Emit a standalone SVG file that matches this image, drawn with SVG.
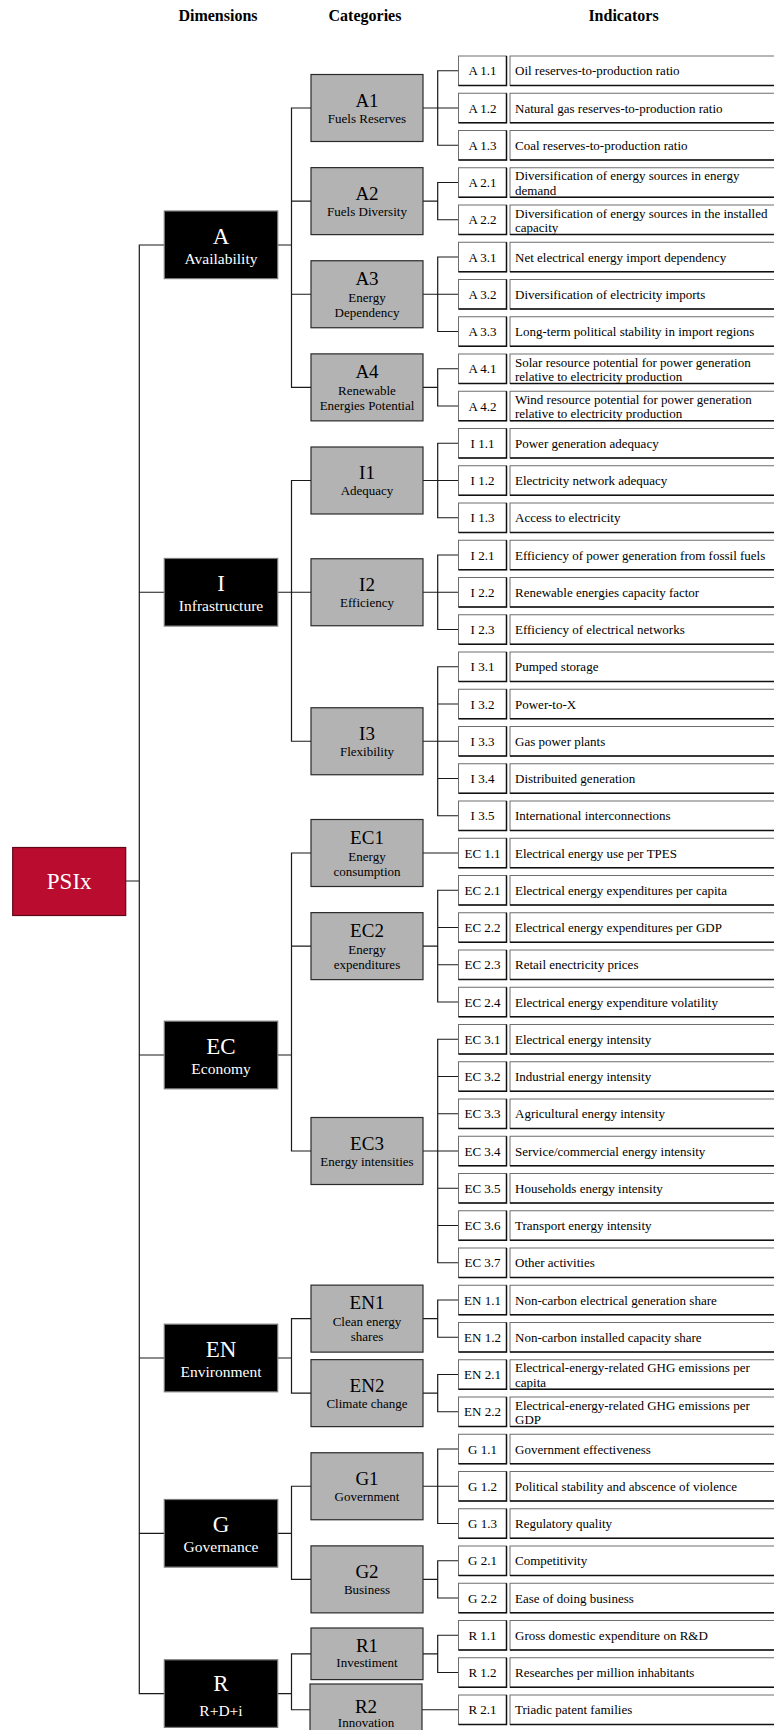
<svg xmlns="http://www.w3.org/2000/svg" xmlns:xlink="http://www.w3.org/1999/xlink" width="774" height="1730" viewBox="0 0 774 1730">
<style>
text{font-family:"Liberation Serif","Times New Roman",serif;fill:#000}
.hd{font-size:16px;font-weight:bold;text-anchor:middle}
.con path{fill:none;stroke:#1a1a1a;stroke-width:1.2}
.dim rect{fill:#000;stroke:#7a7a7a;stroke-width:1.2}
.dim text{fill:#fff;text-anchor:middle}
.dt{font-size:23px}
.ds{font-size:15.5px}
.cat rect{fill:#b3b3b3;stroke:#2a2a2a;stroke-width:1.2}
.cat text{text-anchor:middle}
.ct{font-size:19px}
.cs{font-size:13px}
.c{font-size:13px;text-anchor:middle}
.d{font-size:13px}
</style>
<defs>
<g id="rb">
<rect x="458.5" y="0" width="48" height="29.5" fill="#fff" stroke="#6e6e6e" stroke-width="1"/>
<rect x="510" y="0" width="270" height="29.5" fill="#fff" stroke="#6e6e6e" stroke-width="1"/>
<path d="M458.5 29.5 H506.5 V0 M510 29.5 H780" fill="none" stroke="#111" stroke-width="1.5"/>
</g>
</defs>
<rect width="774" height="1730" fill="#fff"/>
<text class="hd" x="218" y="21">Dimensions</text>
<text class="hd" x="365" y="21">Categories</text>
<text class="hd" x="623.5" y="21">Indicators</text>

<g id="connectors" class="con">
<path d="M125.7 881 H139.3 M164.3 245 H139.3 V1693.6 H164.3 M139.3 592.25 H164.3 M139.3 1055 H164.3 M139.3 1358 H164.3 M139.3 1533.3 H164.3"/>
<path d="M311 108 H291.5 V387.375 H311 M291.5 201.125 H311 M291.5 294.25 H311 M277.7 245 H291.5"/>
<path d="M311 480.5 H291.5 V741.25 H311 M277.7 592.25 H311"/>
<path d="M311 853 H291.5 V1151 H311 M291.5 946.125 H311 M277.7 1055 H291.5"/>
<path d="M311 1318.625 H291.5 V1393.125 H311 M277.7 1358 H291.5"/>
<path d="M311 1486.25 H291.5 V1579.375 H311 M277.7 1533.3 H291.5"/>
<path d="M311 1653.875 H291.5 V1709.75 H310 M277.7 1693.6 H291.5"/>
<path d="M458.5 70.75 H437.7 V145.25 H458.5 M423 108 H458.5"/>
<path d="M458.5 182.5 H437.7 V219.75 H458.5 M423 201.125 H437.7"/>
<path d="M458.5 257 H437.7 V331.5 H458.5 M423 294.25 H458.5"/>
<path d="M458.5 368.75 H437.7 V406 H458.5 M423 387.375 H437.7"/>
<path d="M458.5 443.25 H437.7 V517.75 H458.5 M423 480.5 H458.5"/>
<path d="M458.5 555 H437.7 V629.5 H458.5 M423 592.25 H458.5"/>
<path d="M458.5 666.75 H437.7 V815.75 H458.5 M437.7 704 H458.5 M423 741.25 H458.5 M437.7 778.5 H458.5"/>
<path d="M423 853 H458.5"/>
<path d="M458.5 890.25 H437.7 V1002 H458.5 M437.7 927.5 H458.5 M437.7 964.75 H458.5 M423 946.125 H437.7"/>
<path d="M458.5 1039.25 H437.7 V1262.75 H458.5 M437.7 1076.5 H458.5 M437.7 1113.75 H458.5 M423 1151 H458.5 M437.7 1188.25 H458.5 M437.7 1225.5 H458.5"/>
<path d="M458.5 1300 H437.7 V1337.25 H458.5 M423 1318.625 H437.7"/>
<path d="M458.5 1374.5 H437.7 V1411.75 H458.5 M423 1393.125 H437.7"/>
<path d="M458.5 1449 H437.7 V1523.5 H458.5 M423 1486.25 H458.5"/>
<path d="M458.5 1560.75 H437.7 V1598 H458.5 M423 1579.375 H437.7"/>
<path d="M458.5 1635.25 H437.7 V1672.5 H458.5 M423 1653.875 H437.7"/>
<path d="M422 1709.75 H458.5"/>
</g>

<g id="psix">
<rect x="12.7" y="847.5" width="113" height="68" fill="#ba0c2f" stroke="#5e0717" stroke-width="1.2"/>
<text x="69.2" y="889" font-size="23" text-anchor="middle" style="fill:#fff">PSIx</text>
</g>

<g id="dim-A" class="dim"><rect x="164.3" y="211" width="113.4" height="67.6"/><text class="dt" x="221" y="243.5">A</text><text class="ds" x="221" y="264">Availability</text></g>
<g id="dim-I" class="dim"><rect x="164.3" y="558.45" width="113.4" height="67.6"/><text class="dt" x="221" y="590.75">I</text><text class="ds" x="221" y="611.25">Infrastructure</text></g>
<g id="dim-EC" class="dim"><rect x="164.3" y="1021.2" width="113.4" height="67.6"/><text class="dt" x="221" y="1053.5">EC</text><text class="ds" x="221" y="1074">Economy</text></g>
<g id="dim-EN" class="dim"><rect x="164.3" y="1324.2" width="113.4" height="67.6"/><text class="dt" x="221" y="1356.5">EN</text><text class="ds" x="221" y="1377">Environment</text></g>
<g id="dim-G" class="dim"><rect x="164.3" y="1499.5" width="113.4" height="67.6"/><text class="dt" x="221" y="1531.8">G</text><text class="ds" x="221" y="1552.3">Governance</text></g>
<g id="dim-R" class="dim"><rect x="164.3" y="1659.8" width="113.4" height="67.6"/><text class="dt" x="221" y="1691">R</text><text class="ds" x="221" y="1716">R+D+i</text></g>

<g id="cat-A1" class="cat"><rect x="311" y="74.5" width="112" height="67"/><text class="ct" x="367" y="106.5">A1</text><text class="cs" x="367" y="122.8">Fuels Reserves</text></g>
<g id="cat-A2" class="cat"><rect x="311" y="167.625" width="112" height="67"/><text class="ct" x="367" y="199.6">A2</text><text class="cs" x="367" y="215.9">Fuels Diversity</text></g>
<g id="cat-A3" class="cat"><rect x="311" y="260.75" width="112" height="67"/><text class="ct" x="367" y="284.75">A3</text><text class="cs" x="367" y="301.75">Energy</text><text class="cs" x="367" y="316.75">Dependency</text></g>
<g id="cat-A4" class="cat"><rect x="311" y="353.875" width="112" height="67"/><text class="ct" x="367" y="377.9">A4</text><text class="cs" x="367" y="394.9">Renewable</text><text class="cs" x="367" y="409.9">Energies Potential</text></g>
<g id="cat-I1" class="cat"><rect x="311" y="447" width="112" height="67"/><text class="ct" x="367" y="479">I1</text><text class="cs" x="367" y="495.3">Adequacy</text></g>
<g id="cat-I2" class="cat"><rect x="311" y="558.75" width="112" height="67"/><text class="ct" x="367" y="590.75">I2</text><text class="cs" x="367" y="607.05">Efficiency</text></g>
<g id="cat-I3" class="cat"><rect x="311" y="707.75" width="112" height="67"/><text class="ct" x="367" y="739.75">I3</text><text class="cs" x="367" y="756.05">Flexibility</text></g>
<g id="cat-EC1" class="cat"><rect x="311" y="819.5" width="112" height="67"/><text class="ct" x="367" y="843.5">EC1</text><text class="cs" x="367" y="860.5">Energy</text><text class="cs" x="367" y="875.5">consumption</text></g>
<g id="cat-EC2" class="cat"><rect x="311" y="912.625" width="112" height="67"/><text class="ct" x="367" y="936.6">EC2</text><text class="cs" x="367" y="953.6">Energy</text><text class="cs" x="367" y="968.6">expenditures</text></g>
<g id="cat-EC3" class="cat"><rect x="311" y="1117.5" width="112" height="67"/><text class="ct" x="367" y="1149.5">EC3</text><text class="cs" x="367" y="1165.8">Energy intensities</text></g>
<g id="cat-EN1" class="cat"><rect x="311" y="1285.125" width="112" height="67"/><text class="ct" x="367" y="1309.1">EN1</text><text class="cs" x="367" y="1326.1">Clean energy</text><text class="cs" x="367" y="1341.1">shares</text></g>
<g id="cat-EN2" class="cat"><rect x="311" y="1359.625" width="112" height="67"/><text class="ct" x="367" y="1391.6">EN2</text><text class="cs" x="367" y="1407.9">Climate change</text></g>
<g id="cat-G1" class="cat"><rect x="311" y="1452.75" width="112" height="67"/><text class="ct" x="367" y="1484.75">G1</text><text class="cs" x="367" y="1501.05">Government</text></g>
<g id="cat-G2" class="cat"><rect x="311" y="1545.875" width="112" height="67"/><text class="ct" x="367" y="1577.9">G2</text><text class="cs" x="367" y="1594.2">Business</text></g>
<g id="cat-R1" class="cat"><rect x="311" y="1628" width="112" height="51.6"/><text class="ct" x="367" y="1651.5">R1</text><text class="cs" x="367" y="1667">Investiment</text></g>
<g id="cat-R2" class="cat"><rect x="310" y="1684" width="112" height="67"/><text class="ct" x="366" y="1712.5">R2</text><text class="cs" x="366" y="1726.5">Innovation</text></g>

<g id="ind-A1-1" transform="translate(0,56)"><use xlink:href="#rb" href="#rb"/><text class="c" x="482.5" y="19.25">A 1.1</text><text class="d" x="515" y="19.25">Oil reserves-to-production ratio</text></g>
<g id="ind-A1-2" transform="translate(0,93.25)"><use xlink:href="#rb" href="#rb"/><text class="c" x="482.5" y="19.25">A 1.2</text><text class="d" x="515" y="19.25">Natural gas reserves-to-production ratio</text></g>
<g id="ind-A1-3" transform="translate(0,130.5)"><use xlink:href="#rb" href="#rb"/><text class="c" x="482.5" y="19.25">A 1.3</text><text class="d" x="515" y="19.25">Coal reserves-to-production ratio</text></g>
<g id="ind-A2-1" transform="translate(0,167.75)"><use xlink:href="#rb" href="#rb"/><text class="c" x="482.5" y="19.25">A 2.1</text><text class="d" x="515" y="12.5">Diversification of energy sources in energy</text><text class="d" x="515" y="27">demand</text></g>
<g id="ind-A2-2" transform="translate(0,205)"><use xlink:href="#rb" href="#rb"/><text class="c" x="482.5" y="19.25">A 2.2</text><text class="d" x="515" y="12.5">Diversification of energy sources in the installed</text><text class="d" x="515" y="27">capacity</text></g>
<g id="ind-A3-1" transform="translate(0,242.25)"><use xlink:href="#rb" href="#rb"/><text class="c" x="482.5" y="19.25">A 3.1</text><text class="d" x="515" y="19.25">Net electrical energy import dependency</text></g>
<g id="ind-A3-2" transform="translate(0,279.5)"><use xlink:href="#rb" href="#rb"/><text class="c" x="482.5" y="19.25">A 3.2</text><text class="d" x="515" y="19.25">Diversification of electricity imports</text></g>
<g id="ind-A3-3" transform="translate(0,316.75)"><use xlink:href="#rb" href="#rb"/><text class="c" x="482.5" y="19.25">A 3.3</text><text class="d" x="515" y="19.25">Long-term political stability in import regions</text></g>
<g id="ind-A4-1" transform="translate(0,354)"><use xlink:href="#rb" href="#rb"/><text class="c" x="482.5" y="19.25">A 4.1</text><text class="d" x="515" y="12.5">Solar resource potential for power generation</text><text class="d" x="515" y="27">relative to electricity production</text></g>
<g id="ind-A4-2" transform="translate(0,391.25)"><use xlink:href="#rb" href="#rb"/><text class="c" x="482.5" y="19.25">A 4.2</text><text class="d" x="515" y="12.5">Wind resource potential for power generation</text><text class="d" x="515" y="27">relative to electricity production</text></g>
<g id="ind-I1-1" transform="translate(0,428.5)"><use xlink:href="#rb" href="#rb"/><text class="c" x="482.5" y="19.25">I 1.1</text><text class="d" x="515" y="19.25">Power generation adequacy</text></g>
<g id="ind-I1-2" transform="translate(0,465.75)"><use xlink:href="#rb" href="#rb"/><text class="c" x="482.5" y="19.25">I 1.2</text><text class="d" x="515" y="19.25">Electricity network adequacy</text></g>
<g id="ind-I1-3" transform="translate(0,503)"><use xlink:href="#rb" href="#rb"/><text class="c" x="482.5" y="19.25">I 1.3</text><text class="d" x="515" y="19.25">Access to electricity</text></g>
<g id="ind-I2-1" transform="translate(0,540.25)"><use xlink:href="#rb" href="#rb"/><text class="c" x="482.5" y="19.25">I 2.1</text><text class="d" x="515" y="19.25">Efficiency of power generation from fossil fuels</text></g>
<g id="ind-I2-2" transform="translate(0,577.5)"><use xlink:href="#rb" href="#rb"/><text class="c" x="482.5" y="19.25">I 2.2</text><text class="d" x="515" y="19.25">Renewable energies capacity factor</text></g>
<g id="ind-I2-3" transform="translate(0,614.75)"><use xlink:href="#rb" href="#rb"/><text class="c" x="482.5" y="19.25">I 2.3</text><text class="d" x="515" y="19.25">Efficiency of electrical networks</text></g>
<g id="ind-I3-1" transform="translate(0,652)"><use xlink:href="#rb" href="#rb"/><text class="c" x="482.5" y="19.25">I 3.1</text><text class="d" x="515" y="19.25">Pumped storage</text></g>
<g id="ind-I3-2" transform="translate(0,689.25)"><use xlink:href="#rb" href="#rb"/><text class="c" x="482.5" y="19.25">I 3.2</text><text class="d" x="515" y="19.25">Power-to-X</text></g>
<g id="ind-I3-3" transform="translate(0,726.5)"><use xlink:href="#rb" href="#rb"/><text class="c" x="482.5" y="19.25">I 3.3</text><text class="d" x="515" y="19.25">Gas power plants</text></g>
<g id="ind-I3-4" transform="translate(0,763.75)"><use xlink:href="#rb" href="#rb"/><text class="c" x="482.5" y="19.25">I 3.4</text><text class="d" x="515" y="19.25">Distribuited generation</text></g>
<g id="ind-I3-5" transform="translate(0,801)"><use xlink:href="#rb" href="#rb"/><text class="c" x="482.5" y="19.25">I 3.5</text><text class="d" x="515" y="19.25">International interconnections</text></g>
<g id="ind-EC1-1" transform="translate(0,838.25)"><use xlink:href="#rb" href="#rb"/><text class="c" x="482.5" y="19.25">EC 1.1</text><text class="d" x="515" y="19.25">Electrical energy use per TPES</text></g>
<g id="ind-EC2-1" transform="translate(0,875.5)"><use xlink:href="#rb" href="#rb"/><text class="c" x="482.5" y="19.25">EC 2.1</text><text class="d" x="515" y="19.25">Electrical energy expenditures per capita</text></g>
<g id="ind-EC2-2" transform="translate(0,912.75)"><use xlink:href="#rb" href="#rb"/><text class="c" x="482.5" y="19.25">EC 2.2</text><text class="d" x="515" y="19.25">Electrical energy expenditures per GDP</text></g>
<g id="ind-EC2-3" transform="translate(0,950)"><use xlink:href="#rb" href="#rb"/><text class="c" x="482.5" y="19.25">EC 2.3</text><text class="d" x="515" y="19.25">Retail enectricity prices</text></g>
<g id="ind-EC2-4" transform="translate(0,987.25)"><use xlink:href="#rb" href="#rb"/><text class="c" x="482.5" y="19.25">EC 2.4</text><text class="d" x="515" y="19.25">Electrical energy expenditure volatility</text></g>
<g id="ind-EC3-1" transform="translate(0,1024.5)"><use xlink:href="#rb" href="#rb"/><text class="c" x="482.5" y="19.25">EC 3.1</text><text class="d" x="515" y="19.25">Electrical energy intensity</text></g>
<g id="ind-EC3-2" transform="translate(0,1061.75)"><use xlink:href="#rb" href="#rb"/><text class="c" x="482.5" y="19.25">EC 3.2</text><text class="d" x="515" y="19.25">Industrial energy intensity</text></g>
<g id="ind-EC3-3" transform="translate(0,1099)"><use xlink:href="#rb" href="#rb"/><text class="c" x="482.5" y="19.25">EC 3.3</text><text class="d" x="515" y="19.25">Agricultural energy intensity</text></g>
<g id="ind-EC3-4" transform="translate(0,1136.25)"><use xlink:href="#rb" href="#rb"/><text class="c" x="482.5" y="19.25">EC 3.4</text><text class="d" x="515" y="19.25">Service/commercial energy intensity</text></g>
<g id="ind-EC3-5" transform="translate(0,1173.5)"><use xlink:href="#rb" href="#rb"/><text class="c" x="482.5" y="19.25">EC 3.5</text><text class="d" x="515" y="19.25">Households energy intensity</text></g>
<g id="ind-EC3-6" transform="translate(0,1210.75)"><use xlink:href="#rb" href="#rb"/><text class="c" x="482.5" y="19.25">EC 3.6</text><text class="d" x="515" y="19.25">Transport energy intensity</text></g>
<g id="ind-EC3-7" transform="translate(0,1248)"><use xlink:href="#rb" href="#rb"/><text class="c" x="482.5" y="19.25">EC 3.7</text><text class="d" x="515" y="19.25">Other activities</text></g>
<g id="ind-EN1-1" transform="translate(0,1285.25)"><use xlink:href="#rb" href="#rb"/><text class="c" x="482.5" y="19.25">EN 1.1</text><text class="d" x="515" y="19.25">Non-carbon electrical generation share</text></g>
<g id="ind-EN1-2" transform="translate(0,1322.5)"><use xlink:href="#rb" href="#rb"/><text class="c" x="482.5" y="19.25">EN 1.2</text><text class="d" x="515" y="19.25">Non-carbon installed capacity share</text></g>
<g id="ind-EN2-1" transform="translate(0,1359.75)"><use xlink:href="#rb" href="#rb"/><text class="c" x="482.5" y="19.25">EN 2.1</text><text class="d" x="515" y="12.5">Electrical-energy-related GHG emissions per</text><text class="d" x="515" y="27">capita</text></g>
<g id="ind-EN2-2" transform="translate(0,1397)"><use xlink:href="#rb" href="#rb"/><text class="c" x="482.5" y="19.25">EN 2.2</text><text class="d" x="515" y="12.5">Electrical-energy-related GHG emissions per</text><text class="d" x="515" y="27">GDP</text></g>
<g id="ind-G1-1" transform="translate(0,1434.25)"><use xlink:href="#rb" href="#rb"/><text class="c" x="482.5" y="19.25">G 1.1</text><text class="d" x="515" y="19.25">Government effectiveness</text></g>
<g id="ind-G1-2" transform="translate(0,1471.5)"><use xlink:href="#rb" href="#rb"/><text class="c" x="482.5" y="19.25">G 1.2</text><text class="d" x="515" y="19.25">Political stability and abscence of violence</text></g>
<g id="ind-G1-3" transform="translate(0,1508.75)"><use xlink:href="#rb" href="#rb"/><text class="c" x="482.5" y="19.25">G 1.3</text><text class="d" x="515" y="19.25">Regulatory quality</text></g>
<g id="ind-G2-1" transform="translate(0,1546)"><use xlink:href="#rb" href="#rb"/><text class="c" x="482.5" y="19.25">G 2.1</text><text class="d" x="515" y="19.25">Competitivity</text></g>
<g id="ind-G2-2" transform="translate(0,1583.25)"><use xlink:href="#rb" href="#rb"/><text class="c" x="482.5" y="19.25">G 2.2</text><text class="d" x="515" y="19.25">Ease of doing business</text></g>
<g id="ind-R1-1" transform="translate(0,1620.5)"><use xlink:href="#rb" href="#rb"/><text class="c" x="482.5" y="19.25">R 1.1</text><text class="d" x="515" y="19.25">Gross domestic expenditure on R&amp;D</text></g>
<g id="ind-R1-2" transform="translate(0,1657.75)"><use xlink:href="#rb" href="#rb"/><text class="c" x="482.5" y="19.25">R 1.2</text><text class="d" x="515" y="19.25">Researches per million inhabitants</text></g>
<g id="ind-R2-1" transform="translate(0,1695)"><use xlink:href="#rb" href="#rb"/><text class="c" x="482.5" y="19.25">R 2.1</text><text class="d" x="515" y="19.25">Triadic patent families</text></g>
</svg>
